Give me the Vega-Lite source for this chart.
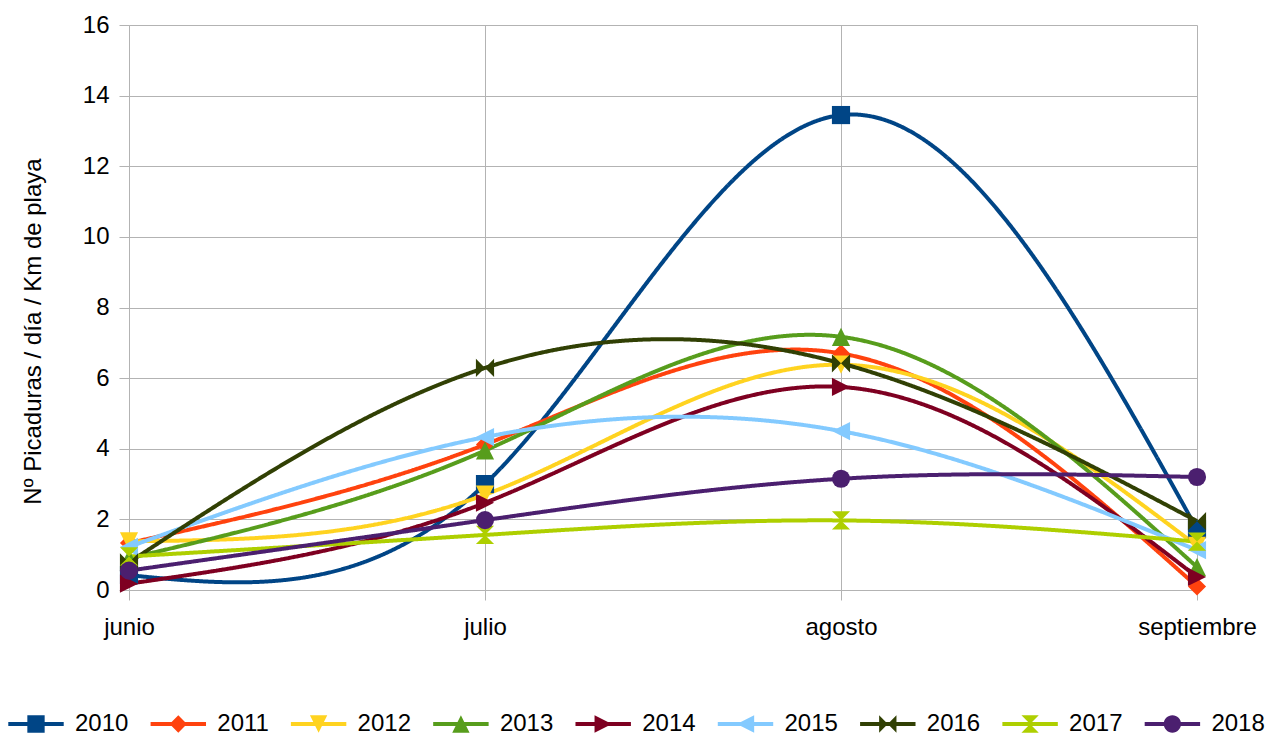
{
  "$schema": "https://vega.github.io/schema/vega-lite/v6.json",
  "width": 1068,
  "height": 565,
  "autosize": "none",
  "padding": {"left": 129, "top": 25, "right": 73, "bottom": 145},
  "background": "white",
  "config": {"font": "Liberation Sans", "view": {"stroke": null}},
  "data": {"values": [
    {"mes": "junio", "year": "2010", "v": 0.42},
    {"mes": "julio", "year": "2010", "v": 3.0},
    {"mes": "agosto", "year": "2010", "v": 13.45},
    {"mes": "septiembre", "year": "2010", "v": 1.72},
    {"mes": "junio", "year": "2011", "v": 1.33},
    {"mes": "julio", "year": "2011", "v": 4.12},
    {"mes": "agosto", "year": "2011", "v": 6.7},
    {"mes": "septiembre", "year": "2011", "v": 0.1},
    {"mes": "junio", "year": "2012", "v": 1.38},
    {"mes": "julio", "year": "2012", "v": 2.7},
    {"mes": "agosto", "year": "2012", "v": 6.38},
    {"mes": "septiembre", "year": "2012", "v": 1.25},
    {"mes": "junio", "year": "2013", "v": 0.9},
    {"mes": "julio", "year": "2013", "v": 3.95},
    {"mes": "agosto", "year": "2013", "v": 7.17},
    {"mes": "septiembre", "year": "2013", "v": 0.65},
    {"mes": "junio", "year": "2014", "v": 0.18},
    {"mes": "julio", "year": "2014", "v": 2.47},
    {"mes": "agosto", "year": "2014", "v": 5.75},
    {"mes": "septiembre", "year": "2014", "v": 0.37},
    {"mes": "junio", "year": "2015", "v": 1.22},
    {"mes": "julio", "year": "2015", "v": 4.33},
    {"mes": "agosto", "year": "2015", "v": 4.5},
    {"mes": "septiembre", "year": "2015", "v": 1.13},
    {"mes": "junio", "year": "2016", "v": 0.78},
    {"mes": "julio", "year": "2016", "v": 6.29},
    {"mes": "agosto", "year": "2016", "v": 6.42},
    {"mes": "septiembre", "year": "2016", "v": 1.95},
    {"mes": "junio", "year": "2017", "v": 0.95},
    {"mes": "julio", "year": "2017", "v": 1.56},
    {"mes": "agosto", "year": "2017", "v": 1.97},
    {"mes": "septiembre", "year": "2017", "v": 1.37},
    {"mes": "junio", "year": "2018", "v": 0.55},
    {"mes": "julio", "year": "2018", "v": 1.98},
    {"mes": "agosto", "year": "2018", "v": 3.15},
    {"mes": "septiembre", "year": "2018", "v": 3.2}
  ]},
  "encoding": {
    "x": {
      "field": "mes", "type": "ordinal",
      "sort": ["junio", "julio", "agosto", "septiembre"],
      "scale": {"type": "point", "padding": 0},
      "axis": {
        "title": null, "labelAngle": 0, "labelFontSize": 24, "labelColor": "black",
        "grid": true, "gridColor": "#b3b3b3", "gridWidth": 1, "domain": false,
        "ticks": true, "tickColor": "#b3b3b3", "tickSize": 10, "labelPadding": 15
      }
    },
    "y": {
      "field": "v", "type": "quantitative",
      "scale": {"domain": [0, 16], "nice": false, "zero": true},
      "axis": {
        "values": [0, 2, 4, 6, 8, 10, 12, 14, 16],
        "title": "Nº Picaduras / día / Km de playa",
        "titleFontSize": 24, "titleFontWeight": "normal", "titleColor": "black",
        "titleX": -96, "titleY": 306, "titleBaseline": "middle", "titleAngle": -90,
        "labelFontSize": 24, "labelColor": "black", "labelPadding": 10,
        "grid": true, "gridColor": "#b3b3b3", "gridWidth": 1,
        "domain": true, "domainColor": "#b3b3b3",
        "tickColor": "#b3b3b3", "tickSize": 10
      }
    },
    "color": {
      "field": "year", "type": "nominal",
      "scale": {
        "range": ["#004586", "#ff420e", "#ffd320", "#579d1c", "#7e0021", "#83caff", "#314004", "#aecf00", "#4b1f6f"]
      },
      "legend": null
    }
  },
  "layer": [
    {
      "mark": {"type": "line", "interpolate": "natural", "strokeWidth": 4, "strokeJoin": "round"},
      "encoding": {
        "strokeDash": {
          "field": "year", "type": "nominal",
          "scale": {
            "domain": ["2010", "2011", "2012", "2013", "2014", "2015", "2016", "2017", "2018"],
            "range": [[1, 0], [1, 0], [1, 0], [1, 0], [1, 0], [1, 0], [1, 0], [1, 0], [1, 0]]
          },
          "legend": {
            "orient": "none", "legendX": -122, "legendY": 687,
            "direction": "horizontal", "columns": 9, "title": null,
            "labelFontSize": 24, "labelColor": "black",
            "symbolSize": 300, "symbolOffset": 17, "labelOffset": 27,
            "columnPadding": 20.3, "padding": 0,
            "encode": {
              "symbols": {
                "update": {
                  "shape": {"signal": "['M-3.2,-0.23H3.2V0.23H-3.2ZM-1,-1H1V1H-1Z','M-3.2,-0.23H3.2V0.23H-3.2ZM0,-1L1,0L0,1L-1,0Z','M-3.2,-0.23H3.2V0.23H-3.2ZM-1,-1H1L0,1Z','M-3.2,-0.23H3.2V0.23H-3.2ZM0,-1L1,1H-1Z','M-3.2,-0.23H3.2V0.23H-3.2ZM-1,-1L1,0L-1,1Z','M-3.2,-0.23H3.2V0.23H-3.2ZM1,-1L1,1L-1,0Z','M-3.2,-0.23H3.2V0.23H-3.2ZM-1,-1L0,0L-1,1ZM1,-1L1,1L0,0Z','M-3.2,-0.23H3.2V0.23H-3.2ZM-1,-1H1L0,0ZM0,0L1,1H-1Z','M-3.2,-0.23H3.2V0.23H-3.2ZM1,0A1,1,0,1,1,-1,0A1,1,0,1,1,1,0Z'][indexof(['2010','2011','2012','2013','2014','2015','2016','2017','2018'], datum.value)]"},
                  "fill": {"scale": "color", "field": "value"},
                  "strokeWidth": {"value": 0},
                  "opacity": {"value": 1},
                  "fillOpacity": {"value": 1}
                }
              }
            }
          }
        }
      }
    },
    {
      "mark": {"type": "point", "filled": true, "opacity": 1, "size": 330},
      "encoding": {
        "shape": {
          "field": "year", "type": "nominal",
          "scale": {
            "range": ["M-1,-1H1V1H-1Z", "M0,-1L1,0L0,1L-1,0Z", "M-1,-1H1L0,1Z", "M0,-1L1,1H-1Z", "M-1,-1L1,0L-1,1Z", "M1,-1L1,1L-1,0Z", "M-1,-1L0,0L-1,1ZM1,-1L1,1L0,0Z", "M-1,-1H1L0,0ZM0,0L1,1H-1Z", "circle"]
          },
          "legend": null
        }
      }
    }
  ]
}
